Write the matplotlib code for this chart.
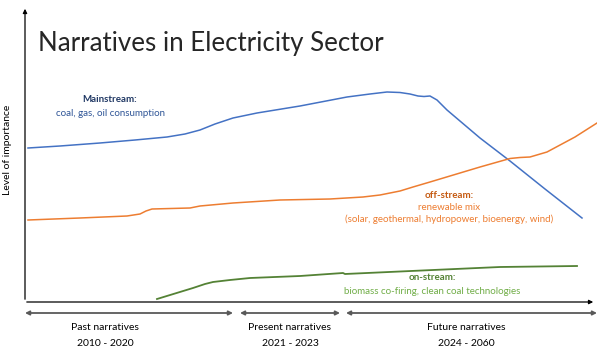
import matplotlib.pyplot as plt

plt.rcParams['font.family'] = ['Lato', 'DejaVu Sans']

# Curves traced on a pixel-like canvas (x to the right, y downward)
main_x = [28, 60, 100, 135, 167, 185, 200, 215, 233, 257, 300, 347, 370, 387, 400, 410, 418, 424, 430, 437, 447, 480, 510, 545, 582]
main_y = [148, 146, 143, 140, 137, 134, 130, 124, 118, 113, 106, 97, 94, 92, 92.5, 94, 96, 96.5, 96, 100, 110, 138, 161, 189, 218]

off_x = [28, 80, 127, 140, 146, 152, 190, 200, 233, 280, 330, 363, 380, 400, 413, 430, 480, 510, 520, 530, 547, 575, 597]
off_y = [220, 218, 216, 214, 211, 209, 208, 206, 203, 200, 199, 197, 195, 191, 187, 182, 167, 158.5, 157.5, 157, 152, 137, 123]

on_x = [157, 193, 205, 213, 230, 250, 300, 343, 345, 433, 500, 577]
on_y = [299, 288, 284, 282, 280, 278, 276, 273, 274, 270, 267, 266]

periods = ['Past narratives', 'Present narratives', 'Future narratives']
period_years = ['2010 - 2020', '2021 - 2023', '2024 - 2060']
period_spans = [(25, 233), (240, 340), (346, 597)]
label_centers = [105, 290, 466]

fig = plt.figure(figsize=(5.97, 3.5), dpi=100)
ax = fig.add_axes([0, 0, 1, 1])
ax.set_xlim(0, 597)
ax.set_ylim(350, 0)
ax.axis('off')

ax.plot(main_x, main_y, color='#4472C4', lw=1.1)
ax.plot(off_x, off_y, color='#ED7D31', lw=1.1)
ax.plot(on_x, on_y, color='#548235', lw=1.3)

# axes drawn as arrows
ax.annotate('', xy=(25, 6), xytext=(25, 302),
            arrowprops=dict(arrowstyle='-|>', color='black', lw=0.9, mutation_scale=6))
ax.annotate('', xy=(596, 302), xytext=(24, 302),
            arrowprops=dict(arrowstyle='-|>', color='black', lw=0.9, mutation_scale=6))

ax.text(38, 44, 'Narratives in Electricity Sector', fontsize=18.6, fontweight='normal',
        va='center', ha='left', color='#262626')
ax.text(8, 150, 'Level of importance', rotation=90, fontsize=7.5, va='center', ha='center')

ax.text(110, 100, 'Mainstream:', fontsize=7, fontweight='bold', color='#203864', ha='center', va='center')
ax.text(111, 113, 'coal, gas, oil consumption', fontsize=7, color='#2F5597', ha='center', va='center')

ax.text(449, 195, 'off-stream:', fontsize=7, fontweight='bold', color='#C55A11', ha='center', va='center')
ax.text(449, 207, 'renewable mix', fontsize=7, color='#ED7D31', ha='center', va='center')
ax.text(449, 219, '(solar, geothermal, hydropower, bioenergy, wind)', fontsize=7,
        color='#ED7D31', ha='center', va='center')

ax.text(432, 278, 'on-stream:', fontsize=7, fontweight='bold', color='#548235', ha='center', va='center')
ax.text(432, 291, 'biomass co-firing, clean coal technologies', fontsize=7,
        color='#70AD47', ha='center', va='center')

for name, years, (x0, x1), cx in zip(periods, period_years, period_spans, label_centers):
    ax.annotate('', xy=(x0, 313), xytext=(x1, 313),
                arrowprops=dict(arrowstyle='<|-|>', color='#595959', lw=1.3, mutation_scale=6,
                                shrinkA=0, shrinkB=0))
    ax.text(cx, 328, name, fontsize=7.5, ha='center', va='center')
    ax.text(cx, 343, years, fontsize=7.5, ha='center', va='center')

fig.savefig('out.png', dpi=100)
